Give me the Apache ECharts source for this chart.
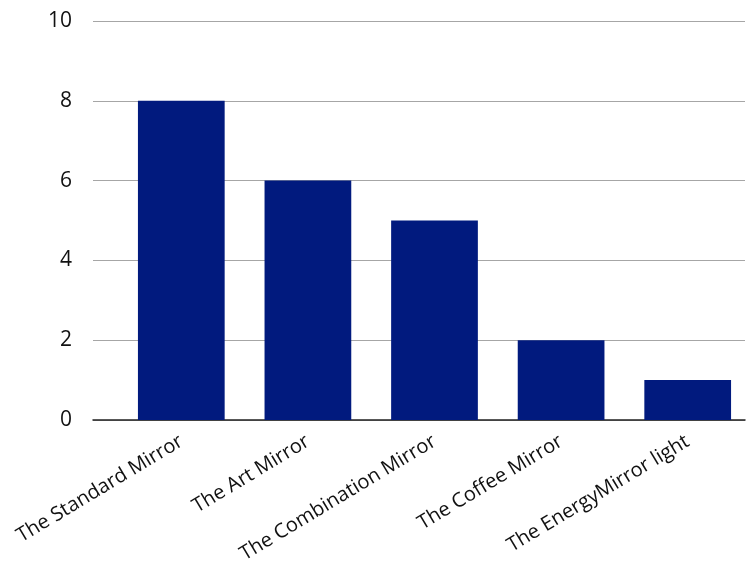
<!DOCTYPE html>
<html><head><meta charset="utf-8">
<script src="https://cdn.jsdelivr.net/npm/echarts@6/dist/echarts.min.js"></script>
<style>html,body{margin:0;padding:0;background:#fff}#c{width:746px;height:571px}</style>
</head><body><div id="c"></div>
<script>
var categories = ["The Standard Mirror","The Art Mirror","The Combination Mirror","The Coffee Mirror","The EnergyMirror light"];
var values = [8,6,5,2,1];
var yTicks = [0,2,4,6,8,10];

var chart = echarts.init(document.getElementById('c'));
var font = "'Open Sans', 'Noto Sans', sans-serif";
chart.setOption({
  animation:false,
  grid:[
    {left:93,right:1,top:21,bottom:151,containLabel:false,outerBoundsMode:'none'},
    {left:118,width:633,top:21,bottom:151,containLabel:false,outerBoundsMode:'none'}
  ],
  xAxis:[
    {gridIndex:0,type:'value',min:0,max:1,show:true,axisLine:{show:true,lineStyle:{color:'#222',width:1.5}},axisTick:{show:false},axisLabel:{show:false},splitLine:{show:false}},
    {gridIndex:1,type:'category',data:categories,axisLine:{show:false},axisTick:{show:false},
     axisLabel:{rotate:31,interval:0,margin:20,fontFamily:font,fontSize:20,color:'#111'}}
  ],
  yAxis:[
    {gridIndex:0,type:'value',min:yTicks[0],max:yTicks[yTicks.length-1],interval:2,
     axisLine:{show:false},axisTick:{show:false},
     axisLabel:{margin:21,fontFamily:font,fontSize:21,color:'#111'},
     splitLine:{lineStyle:{color:'#a6a6a6',width:1}}},
    {gridIndex:1,type:'value',min:yTicks[0],max:yTicks[yTicks.length-1],interval:2,show:false,splitLine:{show:false}}
  ],
  series:[{type:'bar',xAxisIndex:1,yAxisIndex:1,data:values,barWidth:'68.5%',itemStyle:{color:'#011a7e'}}]
});
</script></body></html>
